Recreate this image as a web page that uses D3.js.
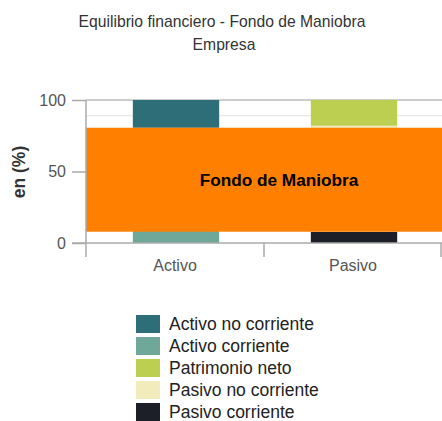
<!DOCTYPE html>
<html>
<head>
<meta charset="utf-8">
<script src="https://cdn.jsdelivr.net/npm/d3@7"></script>
<style>
  body { margin: 0; background: #fff; }
  text { font-family: "Liberation Sans", Arial, sans-serif; }
</style>
</head>
<body>
<script>
// data (percent of total)
var categories = ["Activo", "Pasivo"];
var series = ["Activo no corriente", "Activo corriente", "Patrimonio neto", "Pasivo no corriente", "Pasivo corriente"];
var colors = ["#2e6e78", "#6fa898", "#bccf50", "#f2ecbc", "#1c1f27"];
// bottom-up stacks per category
var activoStack = [["Activo corriente", 80.6], ["Activo no corriente", 19.4]];
var pasivoStack = [["Pasivo corriente", 7.9], ["Pasivo no corriente", 74.1], ["Patrimonio neto", 18.0]];
var fondo = [7.9, 80.6];   // orange band: from pasivo corriente to activo corriente
var yTicks = [0, 50, 100];

var w = 442, h = 421;

var color = d3.scaleOrdinal().domain(series).range(colors);

var svg = d3.select("body").append("svg")
  .attr("width", w)
  .attr("height", h);

var x = d3.scaleBand().domain(categories).range([86, 442]).paddingInner(0).paddingOuter(0);
var y = d3.scaleLinear().domain([0, 100]).range([243, 100]);

// title
svg.append("text").attr("x", 222).attr("y", 27).attr("text-anchor", "middle")
  .attr("font-size", "15.7px").attr("fill", "#333").text("Equilibrio financiero - Fondo de Maniobra");
svg.append("text").attr("x", 224).attr("y", 50).attr("text-anchor", "middle")
  .attr("font-size", "15.7px").attr("fill", "#333").text("Empresa");

// grid lines
svg.append("line").attr("x1", 86).attr("x2", w).attr("y1", y(100)).attr("y2", y(100))
  .attr("stroke", "#bdbdbd").attr("stroke-width", 1.5);
svg.append("line").attr("x1", 86).attr("x2", w).attr("y1", y(89)).attr("y2", y(89))
  .attr("stroke", "#e3e3e3").attr("stroke-width", 1);

// stacked bars
var stacks = {"Activo": activoStack, "Pasivo": pasivoStack};
var bw = x.bandwidth() * 0.485;
categories.forEach(function(cat) {
  var base = 0;
  stacks[cat].forEach(function(d) {
    svg.append("rect")
      .attr("x", x(cat) + x.bandwidth() / 2 - bw / 2 + 1)
      .attr("y", y(base + d[1]))
      .attr("width", bw)
      .attr("height", y(base) - y(base + d[1]))
      .attr("fill", color(d[0]));
    base += d[1];
  });
});

// fondo de maniobra band
svg.append("rect")
  .attr("x", 86).attr("y", y(fondo[1]))
  .attr("width", w - 86).attr("height", y(fondo[0]) - y(fondo[1]))
  .attr("fill", "#ff7f00");
svg.append("text")
  .attr("x", 279).attr("y", (y(fondo[0]) + y(fondo[1])) / 2)
  .attr("dy", "0.35em").attr("text-anchor", "middle")
  .attr("font-size", "17.2px").attr("font-weight", "bold").attr("fill", "#000")
  .text("Fondo de Maniobra");

// y axis
var yAxis = svg.append("g").attr("transform", "translate(86,0)")
  .call(d3.axisLeft(y).tickValues(yTicks).tickSize(14).tickPadding(6));
yAxis.select(".domain").remove();
yAxis.selectAll("line").attr("stroke", "#aaa").attr("stroke-width", 1.5);
yAxis.selectAll("text").attr("font-size", "16px").attr("fill", "#555")
  .style("font-family", "Liberation Sans, Arial, sans-serif");
svg.append("line").attr("x1", 86).attr("x2", 86).attr("y1", 100).attr("y2", 257)
  .attr("stroke", "#aaa").attr("stroke-width", 1.5);

// x axis
var xAxis = svg.append("g").attr("transform", "translate(0," + y(0) + ")")
  .call(d3.axisBottom(x).tickSize(0).tickPadding(17));
xAxis.select(".domain").remove();
xAxis.selectAll("text").attr("font-size", "16px").attr("fill", "#555")
  .style("font-family", "Liberation Sans, Arial, sans-serif");
svg.append("line").attr("x1", 72).attr("x2", w).attr("y1", y(0)).attr("y2", y(0))
  .attr("stroke", "#aaa").attr("stroke-width", 1.5);
[264, 441].forEach(function(px) {
  svg.append("line").attr("x1", px).attr("x2", px).attr("y1", y(0)).attr("y2", 257)
    .attr("stroke", "#aaa").attr("stroke-width", 1.5);
});

// y label
svg.append("text")
  .attr("transform", "translate(25,172) rotate(-90)")
  .attr("text-anchor", "middle")
  .attr("font-size", "17.5px").attr("font-weight", "bold").attr("fill", "#333")
  .text("en (%)");

// legend
var legend = svg.selectAll(".legend").data(series).enter().append("g")
  .attr("transform", function(d, i) { return "translate(136," + (315 + i * 22) + ")"; });
legend.append("rect").attr("width", 24).attr("height", 18)
  .attr("fill", function(d) { return color(d); });
legend.append("text").attr("x", 33).attr("y", 9).attr("dy", "0.35em")
  .attr("font-size", "17.5px").attr("fill", "#222")
  .text(function(d) { return d; });
</script>
</body>
</html>
